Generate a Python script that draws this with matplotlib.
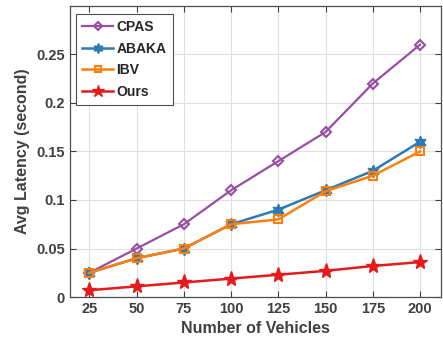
import numpy as np
import matplotlib.pyplot as plt

vehicles = [25, 50, 75, 100, 125, 150, 175, 200]
cpas = [0.025, 0.050, 0.075, 0.110, 0.140, 0.170, 0.220, 0.260]
abaka = [0.025, 0.040, 0.050, 0.075, 0.090, 0.110, 0.130, 0.160]
ibv = [0.025, 0.040, 0.050, 0.075, 0.080, 0.109, 0.125, 0.150]
ours = [0.007, 0.011, 0.015, 0.019, 0.023, 0.027, 0.032, 0.036]

plt.rcParams['font.family'] = ['Liberation Sans', 'DejaVu Sans']
plt.rcParams['font.weight'] = 'bold'

fig = plt.figure(figsize=(4.43, 3.45), dpi=100)
ax = fig.add_axes([0.157, 0.139, 0.838, 0.844])

ax.plot(vehicles, cpas, color='#984ea3', lw=1.6, marker='D', ms=5.5,
        mfc='none', mew=1.5, label='CPAS')
ax.plot(vehicles, abaka, color='#2c7bb6', lw=1.8, marker=(6, 1, 0), ms=9,
        label='ABAKA')
ax.plot(vehicles, ibv, color='#ff7f0e', lw=1.8, marker='s', ms=5.5,
        mfc='none', mew=1.5, label='IBV')
ax.plot(vehicles, ours, color='#e41a1c', lw=1.8, marker='*', ms=11,
        label='Ours')

ax.set_xlim(14.5, 211)
ax.set_ylim(0, 0.3)
ax.set_xticks(vehicles)
ax.set_yticks([0, 0.05, 0.1, 0.15, 0.2, 0.25])
ax.set_yticklabels(['0', '0.05', '0.1', '0.15', '0.2', '0.25'])
ax.grid(True, color='#e0e0e0', lw=0.8)
ax.set_axisbelow(True)
ax.tick_params(direction='in', top=True, right=True, length=4,
               labelsize=10.5, colors='#404040', width=0.8)
for s in ax.spines.values():
    s.set_color('#4d4d4d')
    s.set_linewidth(0.9)

ax.set_xlabel('Number of Vehicles', fontsize=11.5, color='#404040',
              fontweight='bold', labelpad=4)
ax.set_ylabel('Avg Latency (second)', fontsize=11.5, color='#404040',
              fontweight='bold', labelpad=4)

leg = ax.legend(loc='upper left', bbox_to_anchor=(0.018, 0.973),
                fontsize=10, fancybox=False, framealpha=1,
                edgecolor='#4d4d4d', handlelength=2.2, borderpad=0.45,
                labelspacing=0.55, handletextpad=0.25, borderaxespad=0,
                markerscale=0.8)
leg.get_frame().set_linewidth(0.8)
for t in leg.get_texts():
    t.set_color('#262626')

fig.savefig('out.png', dpi=100)
